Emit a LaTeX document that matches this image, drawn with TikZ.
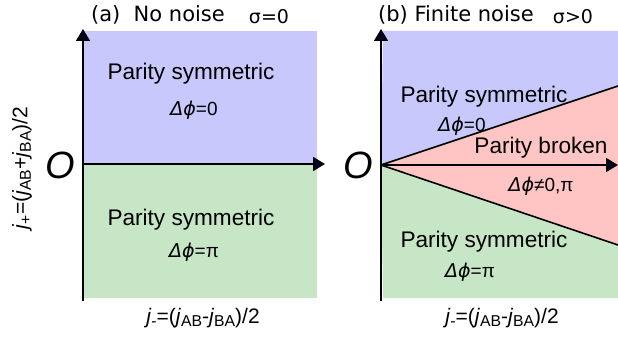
\documentclass[tikz,border=0pt]{standalone}
\usepackage{fontspec}
\setmainfont{Liberation Sans}
\newfontfamily\titlefont{DejaVu Sans}
\newfontfamily\greekfont{DejaVu Sans}
\usetikzlibrary{arrows.meta, positioning}

\definecolor{symblue}{RGB}{200,200,252}
\definecolor{symgreen}{RGB}{198,230,198}
\definecolor{brokenred}{RGB}{255,196,196}
\definecolor{tipnavy}{RGB}{0,0,40}

\newcommand{\jsub}[1]{\textit{j}\raisebox{-0.3ex}{\scalebox{0.75}{#1}}}
\newcommand{\dphi}{{\greekfont\itshape Δϕ}}

\begin{document}
\begin{tikzpicture}[x=1pt, y=-1pt,
    axis/.style={line width=1.6pt, -{Triangle[length=12pt, width=14pt, fill=tipnavy]}},
    border/.style={line width=1.6pt},
    phase/.style={font=\fontsize{22.6}{26}\selectfont},
    angle/.style={font=\fontsize{19}{23}\selectfont},
    paneltitle/.style={font=\titlefont\fontsize{21}{25}\selectfont},
    noiselabel/.style={font=\titlefont\fontsize{19}{22}\selectfont},
    axislabel/.style={font=\fontsize{21}{25}\selectfont},
    origin/.style={font=\fontsize{38}{40}\selectfont\itshape}]
\useasboundingbox (0,0) rectangle (618,339);

% (a) no noise
\fill[symblue] (84,31) rectangle (317,164);
\fill[symgreen] (84,164) rectangle (317,298);
\coordinate (oa) at (83,164);
\coordinate (ta) at (83,29);
\coordinate (ba) at (83,301);
\coordinate (ra) at (325,164);
\draw[border] (ba) -- (oa);
\draw[axis] (oa) -- (ta);
\draw[axis] (oa) -- (ra);

\node[paneltitle] (titlea) at (158,15) {(a)\ \ No noise};
\node[noiselabel] (sigmaa) at (269,17) {σ=0};
\node[phase] (syma) at (191,74) {Parity symmetric};
\node[angle] (phia) at (194,110) {\dphi=0};
\node[phase] (symc) at (191,220) {Parity symmetric};
\node[angle] (phic) at (194,252) {\dphi=π};
\node[origin] (Oa) at (60,165) {O};
\node[axislabel, rotate=90] (yaxis) at (22,168) {\jsub{+}=(\jsub{AB}+\jsub{BA})/2};
\node[axislabel] (xaxisa) at (203,318) {\jsub{-}=(\jsub{AB}-\jsub{BA})/2};

% (b) finite noise
\coordinate (ob) at (381,165);
\coordinate (tb) at (381,29);
\coordinate (bb) at (381,301);
\coordinate (rb) at (618,165);
\coordinate (up) at (618,86);
\coordinate (dn) at (618,245);
\fill[symblue] (383,31) -- (618,31) -- (up) -- (ob) -- cycle;
\fill[brokenred] (ob) -- (up) -- (dn) -- cycle;
\fill[symgreen] (ob) -- (dn) -- (618,298) -- (383,298) -- cycle;
\draw[border] (ob) -- (up);
\draw[border] (ob) -- (dn);
\draw[border] (bb) -- (ob);
\draw[axis] (ob) -- (tb);
\draw[axis] (ob) -- (rb);

\node[paneltitle] (titleb) at (456,15) {(b)\ Finite noise};
\node[noiselabel] (sigmab) at (573,17) {σ>0};
\node[phase] (symb) at (484,97) {Parity symmetric};
\node[angle] (phib) at (462,126) {\dphi=0};
\node[phase] (broken) at (541,148) {Parity broken};
\node[angle] (phibr) at (541,186) {\dphi≠0,π};
\node[phase] (symd) at (484,242) {Parity symmetric};
\node[angle] (phid) at (470,272) {\dphi=π};
\node[origin] (Ob) at (358,165) {O};
\node[axislabel] (xaxisb) at (502,318) {\jsub{-}=(\jsub{AB}-\jsub{BA})/2};
\end{tikzpicture}
\end{document}
